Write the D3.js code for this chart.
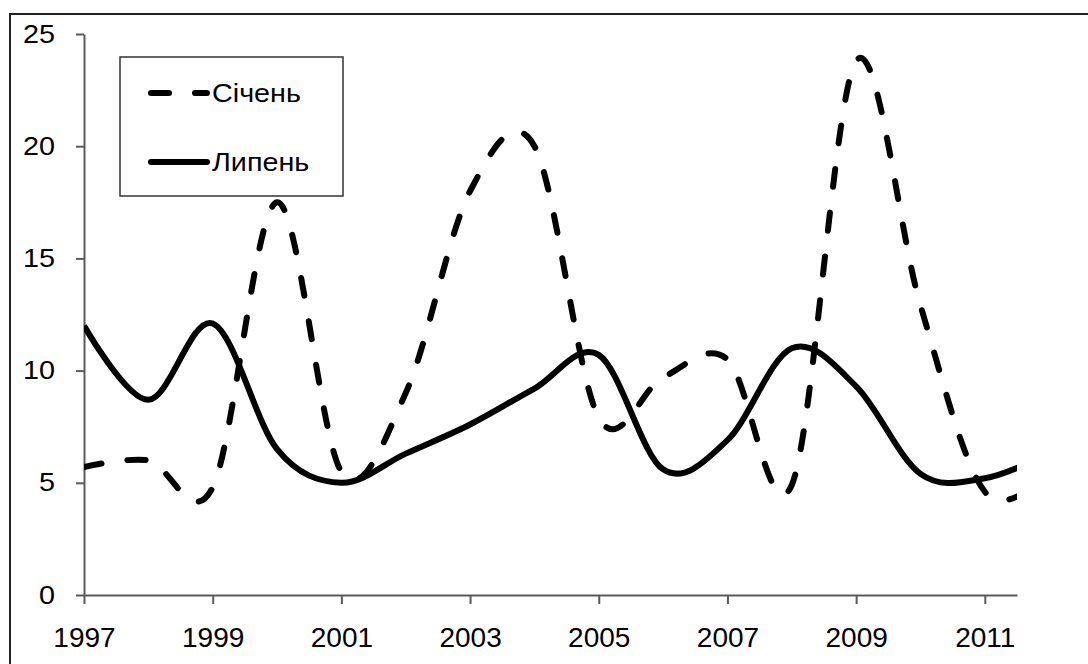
<!DOCTYPE html>
<html>
<head>
<meta charset="utf-8">
<script src="https://cdn.jsdelivr.net/npm/d3@7/dist/d3.min.js"></script>
<style>
  html, body { margin: 0; padding: 0; background: #fff; }
  svg { display: block; font-family: "Liberation Sans", Arial, sans-serif; }
</style>
</head>
<body>
<svg id="chart" width="1088" height="664"></svg>
<script>
// Monthly values by year (January vs July)
const years = [1997, 1998, 1999, 2000, 2001, 2002, 2003, 2004, 2005, 2006, 2007, 2008, 2009, 2010, 2011, 2012];
const january = [5.7, 6.0, 4.8, 17.5, 5.5, 9.0, 18.0, 20.0, 7.9, 9.7, 10.5, 4.9, 23.8, 12.9, 4.6, 5.5];
const july = [12.0, 8.7, 12.1, 6.5, 5.0, 6.3, 7.6, 9.2, 10.7, 5.6, 6.9, 11.0, 9.3, 5.4, 5.2, 6.3];

const seriesNames = ["Січень", "Липень"];
const xTicks = [1997, 1999, 2001, 2003, 2005, 2007, 2009, 2011];
const yTicks = [0, 5, 10, 15, 20, 25];

const svg = d3.select("#chart");
const plot = { left: 84, right: 1017, top: 34, bottom: 595 };
const axisColor = "#5a5a5a";
const stretch = 1.15;

// outer frame
svg.append("rect")
  .attr("x", 10).attr("y", 14)
  .attr("width", 1200).attr("height", 800)
  .attr("fill", "none").attr("stroke", "#222").attr("stroke-width", 2);

const x = d3.scaleLinear().domain([1997, 2011.5]).range([plot.left, plot.right]);
const y = d3.scaleLinear().domain([0, 25]).range([plot.bottom, plot.top]);

// y axis
const yAxis = svg.append("g")
  .attr("transform", `translate(${plot.left},0)`)
  .call(d3.axisLeft(y).tickValues(yTicks).tickSize(8).tickSizeOuter(0).tickPadding(21));
yAxis.select(".domain").attr("stroke", axisColor).attr("stroke-width", 2);
yAxis.selectAll(".tick line").attr("stroke", axisColor).attr("stroke-width", 2);
yAxis.selectAll(".tick text")
  .attr("fill", "#000")
  .attr("font-size", 25)
  .attr("font-family", "Liberation Sans, Arial, sans-serif")
  .attr("x", -29 / stretch)
  .attr("transform", `scale(${stretch},1)`);

// x axis
const xAxis = svg.append("g")
  .attr("transform", `translate(0,${plot.bottom})`)
  .call(d3.axisBottom(x).tickValues(xTicks).tickFormat(d3.format("d")).tickSize(9).tickSizeOuter(0).tickPadding(23));
xAxis.select(".domain").attr("stroke", axisColor).attr("stroke-width", 2);
xAxis.selectAll(".tick line").attr("stroke", axisColor).attr("stroke-width", 2);
xAxis.selectAll(".tick text")
  .attr("fill", "#000")
  .attr("font-size", 28)
  .attr("font-family", "Liberation Sans, Arial, sans-serif");

// clip lines to the plotting range
svg.append("clipPath").attr("id", "plot-clip")
  .append("rect")
  .attr("x", plot.left).attr("y", 0)
  .attr("width", plot.right - plot.left).attr("height", 664);

const line = d3.line()
  .x((d, i) => x(years[i]))
  .y(d => y(d))
  .curve(d3.curveCatmullRom.alpha(0));

const lines = svg.append("g").attr("clip-path", "url(#plot-clip)");

lines.append("path")
  .datum(july)
  .attr("d", line)
  .attr("fill", "none")
  .attr("stroke", "#000")
  .attr("stroke-width", 6)
  .attr("stroke-linejoin", "round");

lines.append("path")
  .datum(january)
  .attr("d", line)
  .attr("fill", "none")
  .attr("stroke", "#000")
  .attr("stroke-width", 6)
  .attr("stroke-linecap", "round")
  .attr("stroke-dasharray", "18,26");

// legend
const legend = svg.append("g");
legend.append("rect")
  .attr("x", 120).attr("y", 57)
  .attr("width", 223).attr("height", 139)
  .attr("fill", "#fff").attr("stroke", "#333").attr("stroke-width", 1.5);

const legendRows = [
  { name: seriesNames[0], dash: "18,26", cy: 93 },
  { name: seriesNames[1], dash: null, cy: 162 }
];
legendRows.forEach(r => {
  const p = legend.append("line")
    .attr("x1", 151).attr("x2", 207)
    .attr("y1", r.cy).attr("y2", r.cy)
    .attr("stroke", "#000").attr("stroke-width", 6)
    .attr("stroke-linecap", "round");
  if (r.dash) p.attr("stroke-dasharray", r.dash);
  legend.append("text")
    .attr("x", 212 / stretch).attr("y", r.cy)
    .attr("dy", "0.35em")
    .attr("transform", `scale(${stretch},1)`)
    .attr("font-size", 25)
    .attr("fill", "#000")
    .text(r.name);
});
</script>
</body>
</html>
